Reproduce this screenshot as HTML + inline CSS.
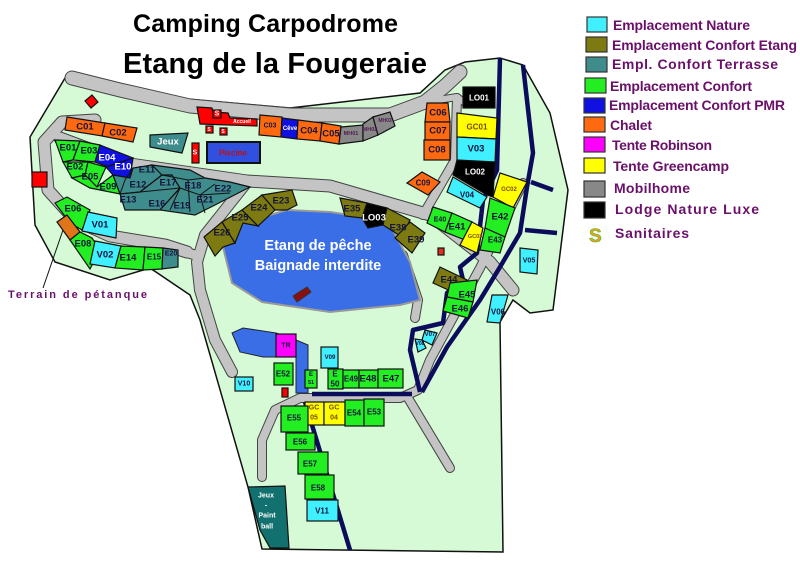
<!DOCTYPE html>
<html><head><meta charset="utf-8"><style>
html,body{margin:0;padding:0;background:#fff;}
svg{display:block;}
text{font-family:"Liberation Sans",sans-serif;font-weight:bold;}
.l{font-size:9.5px;fill:#14143c;text-anchor:middle;dominant-baseline:central;}
.s{font-size:7px;}
.lg{font-size:14px;fill:#6a106a;}
.p{stroke:#111;stroke-width:1.2;}
</style></head><body>
<svg width="800" height="579" viewBox="0 0 800 579" xmlns="http://www.w3.org/2000/svg">
<rect width="800" height="579" fill="#fff"/>
<!-- park -->
<polygon points="68,73 187,99 290,108 420,93 445,70 465,62 500,58 523,65 550,113 568,190 553,310 530,313 513,300 500,322 503,552 262,549 248,487 200,320 190,295 150,268 110,280 55,262 35,225 30,137" fill="#d6fad6" stroke="#111" stroke-width="1.5"/>
<!-- roads outline -->
<g fill="none" stroke="#444" stroke-linejoin="round" stroke-linecap="round">
<polyline stroke-width="15" points="72,78 120,90 190,106 290,115 390,115 425,102 445,86 460,72"/>
<polyline stroke-width="8" points="425,102 457,97 465,103"/>
<polyline stroke-width="13" points="95,120 62,122 44,142 48,190 75,220 110,236 165,245 187,252"/>
<polyline stroke-width="13" points="60,138 130,164 247,181 330,186 430,215 490,262 513,290"/>
<polyline stroke-width="12" points="247,182 205,235 197,262 200,290 215,340 232,372"/>
<polyline stroke-width="11" points="165,246 195,255"/>
<polyline stroke-width="10" points="403,255 418,300 415,318"/>
<polyline stroke-width="10" points="457,98 455,160 423,215"/>
<polyline stroke-width="10" points="523,183 480,268 430,360 418,390 400,398 300,398 275,410 262,440 262,477"/>
<polyline stroke-width="10" points="408,398 450,468"/>
</g>
<g fill="none" stroke="#c4c4c4" stroke-linejoin="round" stroke-linecap="round">
<polyline stroke-width="13" points="72,78 120,90 190,106 290,115 390,115 425,102 445,86 460,72"/>
<polyline stroke-width="6" points="425,102 457,97 465,103"/>
<polyline stroke-width="11" points="95,120 62,122 44,142 48,190 75,220 110,236 165,245 187,252"/>
<polyline stroke-width="11" points="60,138 130,164 247,181 330,186 430,215 490,262 513,290"/>
<polyline stroke-width="10" points="247,182 205,235 197,262 200,290 215,340 232,372"/>
<polyline stroke-width="9" points="165,246 195,255"/>
<polyline stroke-width="8" points="403,255 418,300 415,318"/>
<polyline stroke-width="8" points="457,98 455,160 423,215"/>
<polyline stroke-width="8" points="523,183 480,268 430,360 418,390 400,398 300,398 275,410 262,440 262,477"/>
<polyline stroke-width="8" points="408,398 450,468"/>
</g>
<!-- streams -->
<g fill="none" stroke="#0c0c5c" stroke-width="4.5" stroke-linejoin="round">
<polyline points="500,58 497,170 483,200 477,253 460,267 463,280 447,293 443,323 413,330 410,350 420,392"/>
<polyline points="523,65 533,153 527,187 520,233 500,267 480,300 447,347 422,392"/>
<polyline points="531,182 553,190"/>
<polyline points="525,230 557,233"/>
<polyline points="312,394 412,394"/>
<polyline points="305,402 350,550"/>
</g>
<!-- lake -->
<polygon points="223,247 243,223 287,210 330,212 363,217 390,225 410,262 420,300 400,305 330,312 262,302 232,283" fill="#3a6ee6" stroke="#999" stroke-width="2"/>
<text x="318" y="250" font-size="14.5" fill="#fff" text-anchor="middle">Etang de pêche</text>
<text x="318" y="270" font-size="14.5" fill="#fff" text-anchor="middle">Baignade interdite</text>
<polygon points="293,296 307,287 311,292 297,302" fill="#8a1010" stroke="#333"/>
<!-- pond -->
<polygon points="232,333 243,328 276,333 296,340 308,345 308,393 296,393 296,357 263,357 240,352" fill="#3a6ee6" stroke="#223"/>
<!-- plots -->
<g class="p">
<!-- top row -->
<polygon points="85,101 92,95 98,102 91,108" fill="#f00"/>
<rect x="32" y="172" width="15" height="15" fill="#f00"/>
<polygon points="67,117 105,123 102,136 65,130" fill="#ff6a10"/>
<polygon points="105,123 137,128 133,142 102,136" fill="#ff6a10"/>
<polygon points="150,135 188,133 182,153 150,147" fill="#3f8c8c"/>
<rect x="192" y="143" width="7" height="20" fill="#f00"/>
<rect x="207" y="142" width="53" height="21" fill="#3050e0" stroke-width="2"/>
<polygon points="197,107 212,108 213,112 228,113 230,118 257,119 257,126 200,124" fill="#f00"/>
<rect x="213" y="110" width="8" height="8" fill="#f00"/>
<rect x="206" y="126" width="7" height="7" fill="#f00"/>
<rect x="220" y="128" width="7" height="7" fill="#f00"/>
<polygon points="260,115 282,117 281,137 259,135" fill="#ff6a10"/>
<polygon points="282,118 298,120 297,139 281,137" fill="#1010e0"/>
<polygon points="298,120 322,123 320,141 297,139" fill="#ff6a10"/>
<polygon points="322,123 341,126 339,144 320,141" fill="#ff6a10"/>
<polygon points="341,127 363,125 363,141 339,144" fill="#888"/>
<polygon points="363,124 373,117 378,135 363,141" fill="#888"/>
<polygon points="373,117 390,112 395,126 378,135" fill="#888"/>
<!-- E cluster -->
<polygon points="55,140 80,141 73,160 63,162" fill="#22ee22"/>
<polygon points="80,141 100,145 95,162 73,160" fill="#22ee22"/>
<polygon points="100,145 133,158 122,172 95,162" fill="#1010e0"/>
<polygon points="106,167 133,158 130,178 113,175" fill="#1010e0"/>
<polygon points="63,162 88,162 85,175 72,178" fill="#22ee22"/>
<polygon points="88,162 106,167 97,187 85,175" fill="#22ee22"/>
<polygon points="72,178 85,175 97,187 113,175 120,194 90,188" fill="#22ee22"/>
<polygon points="113,175 130,178 133,168 152,165 162,175 140,192 120,194" fill="#3f8c8c"/>
<polygon points="120,194 140,192 162,175 172,175 180,188 160,210 125,210" fill="#3f8c8c"/>
<polygon points="152,165 190,170 205,178 230,182 250,187 215,205 195,215 160,210 180,188 172,175 162,175" fill="#3f8c8c"/>
<g fill="none" stroke="#111" stroke-width="1">
<polyline points="140,192 180,188"/><polyline points="162,175 188,180 205,178"/><polyline points="180,188 170,210"/><polyline points="188,180 190,212"/><polyline points="200,195 205,213"/><polyline points="215,184 200,195 180,188"/><polyline points="200,195 230,193"/><polyline points="133,168 125,180 120,194"/>
</g>
<!-- lower-left rows -->
<polygon points="55,203 67,197 90,210 82,230 70,223" fill="#22ee22"/>
<polygon points="57,222 67,215 80,232 70,240" fill="#e07418"/>
<polygon points="88,212 117,218 116,238 82,231" fill="#40f0ff"/>
<polygon points="70,240 80,232 92,238 100,250 90,269" fill="#22ee22"/>
<polygon points="95,241 121,246 115,268 90,264" fill="#40f0ff"/>
<polygon points="121,246 145,247 143,270 115,268" fill="#22ee22"/>
<polygon points="145,247 163,248 162,269 143,270" fill="#22ee22"/>
<polygon points="163,248 178,250 178,267 162,269" fill="#3f8c8c"/>
<!-- olive around lake -->
<polygon points="204,237 222,222 235,243 223,247 215,256" fill="#7c7a10"/>
<polygon points="222,222 242,210 258,226 243,223 235,243" fill="#7c7a10"/>
<polygon points="242,210 262,195 275,210 258,226" fill="#7c7a10"/>
<polygon points="262,195 292,190 297,205 287,210 275,210" fill="#7c7a10"/>
<polygon points="340,198 367,203 362,218 345,216" fill="#7c7a10"/>
<polygon points="367,203 387,208 383,225 368,228 362,218" fill="#000"/>
<polygon points="387,208 410,220 402,237 383,225" fill="#7c7a10"/>
<polygon points="410,222 425,233 412,253 395,238" fill="#7c7a10"/>
<!-- right column -->
<rect x="463" y="87" width="32" height="21" fill="#000"/>
<polygon points="427,103 448,103 450,122 425,122" fill="#ff6a10"/>
<rect x="425" y="122" width="25" height="18" fill="#ff6a10"/>
<rect x="424" y="140" width="26" height="20" fill="#ff6a10"/>
<polygon points="457,113 497,118 496,139 457,137" fill="#ffff00"/>
<polygon points="457,137 496,139 495,163 457,161" fill="#40f0ff"/>
<polygon points="457,160 495,162 493,197 487,195 453,175" fill="#000"/>
<polygon points="407,183 422,172 440,182 428,195" fill="#ff6a10"/>
<polygon points="453,177 487,197 480,208 447,192" fill="#40f0ff"/>
<polygon points="500,173 527,182 513,208 493,197" fill="#ffff00"/>
<polygon points="490,198 515,208 505,237 485,228" fill="#22ee22"/>
<polygon points="485,228 505,237 500,253 480,250" fill="#22ee22"/>
<polygon points="433,207 452,213 445,232 427,223" fill="#22ee22"/>
<polygon points="452,213 472,222 465,240 445,232" fill="#22ee22"/>
<polygon points="472,222 483,228 477,253 460,245" fill="#ffff00"/>
<rect x="438" y="248" width="6" height="7" fill="#e03020"/>
<polygon points="440,267 467,280 455,293 433,283" fill="#7c7a10"/>
<polygon points="450,283 477,280 473,302 447,297" fill="#22ee22"/>
<polygon points="447,297 473,302 468,318 443,311" fill="#22ee22"/>
<polygon points="520,248 538,250 537,274 520,272" fill="#40f0ff"/>
<polygon points="492,295 508,295 500,323 487,322" fill="#40f0ff"/>
<polygon points="425,330 437,333 432,345 422,340" fill="#40f0ff"/>
<polygon points="415,339 422,340 426,348 418,352" fill="#40f0ff"/>
<!-- bottom -->
<rect x="276" y="334" width="20" height="23" fill="#ff00ff"/>
<rect x="321" y="347" width="17" height="21" fill="#40f0ff"/>
<rect x="274" y="363" width="19" height="22" fill="#22ee22"/>
<rect x="282" y="388" width="6" height="9" fill="#f00"/>
<rect x="235" y="377" width="18" height="14" fill="#40f0ff"/>
<rect x="305" y="370" width="12" height="18" fill="#22ee22"/>
<rect x="328" y="369" width="15" height="20" fill="#22ee22"/>
<rect x="343" y="370" width="16" height="18" fill="#22ee22"/>
<rect x="359" y="370" width="19" height="18" fill="#22ee22"/>
<rect x="378" y="369" width="25" height="19" fill="#22ee22"/>
<rect x="305" y="402" width="19" height="23" fill="#ffff00"/>
<rect x="324" y="402" width="21" height="23" fill="#ffff00"/>
<rect x="345" y="400" width="19" height="26" fill="#22ee22"/>
<rect x="364" y="399" width="20" height="27" fill="#22ee22"/>
<rect x="281" y="406" width="27" height="26" fill="#22ee22"/>
<rect x="286" y="433" width="29" height="17" fill="#22ee22"/>
<rect x="298" y="452" width="30" height="22" fill="#22ee22"/>
<rect x="305" y="475" width="29" height="24" fill="#22ee22"/>
<rect x="307" y="500" width="31" height="21" fill="#40f0ff"/>
<polygon points="248,487 285,486 289,548 270,548 260,530" fill="#12706e"/>
</g>
<!-- labels -->
<g class="l">
<text x="85" y="127">C01</text><text x="118" y="133">C02</text>
<text x="168" y="142" fill="#fff">Jeux</text>
<text x="195" y="153" class="s" fill="#fff">S</text>
<text x="233" y="153" class="s" fill="#c01010" style="font-size:8px">Piscine</text>
<text x="217" y="114" class="s" fill="#fff">S</text>
<text x="242" y="122" class="s" fill="#fff" style="font-size:5px">Accueil</text>
<text x="209" y="130" class="s" fill="#fff" style="font-size:5px">S</text>
<text x="223" y="132" class="s" fill="#fff" style="font-size:5px">S</text>
<text x="270" y="126" class="s">C03</text><text x="290" y="129" class="s" fill="#fff" style="font-size:6px">Cêve</text>
<text x="309" y="131">C04</text><text x="331" y="134">C05</text>
<text x="351" y="134" class="s" fill="#521a52" style="font-size:5.5px">MH01</text>
<text x="370" y="130" class="s" fill="#521a52" style="font-size:5.5px">MH02</text>
<text x="385" y="121" class="s" fill="#521a52" style="font-size:5px">MH03</text>
<text x="68" y="148">E01</text><text x="89" y="151">E03</text><text x="107" y="158" fill="#fff">E04</text><text x="123" y="167" fill="#fff">E10</text>
<text x="75" y="167">E02</text><text x="90" y="177">E05</text><text x="108" y="187">E09</text>
<text x="147" y="170">E11</text><text x="138" y="185">E12</text><text x="128" y="200">E13</text>
<text x="168" y="183">E17</text><text x="157" y="204">E16</text><text x="193" y="186">E18</text><text x="182" y="206">E19</text>
<text x="205" y="200">E21</text><text x="223" y="189">E22</text>
<text x="73" y="209">E06</text><text x="100" y="225">V01</text><text x="83" y="244">E08</text><text x="105" y="255">V02</text>
<text x="128" y="258">E14</text><text x="154" y="257" class="s" style="font-size:8px">E15</text><text x="171" y="254" class="s">E20</text>
<text x="281" y="201">E23</text><text x="259" y="208">E24</text><text x="240" y="218">E25</text><text x="222" y="233">E26</text>
<text x="352" y="209">E35</text><text x="374" y="218" fill="#fff">LO03</text><text x="398" y="228">E38</text><text x="416" y="240">E39</text>
<text x="479" y="98" fill="#fff" class="s" style="font-size:8px">LO01</text>
<text x="438" y="113">C06</text><text x="438" y="131">C07</text><text x="437" y="150">C08</text>
<text x="477" y="127" fill="#7a4a00" class="s" style="font-size:8px">GC01</text>
<text x="476" y="149">V03</text>
<text x="475" y="172" fill="#fff" class="s" style="font-size:8px">LO02</text>
<text x="423" y="183" class="s" style="font-size:8px">C09</text>
<text x="467" y="195" class="s" style="font-size:8px">V04</text>
<text x="509" y="190" fill="#7a4a00" class="s" style="font-size:6px">GC02</text>
<text x="500" y="217">E42</text><text x="495" y="240" class="s" style="font-size:8px">E43</text>
<text x="440" y="220" class="s" style="font-size:7px">E40</text><text x="457" y="227">E41</text>
<text x="475" y="237" fill="#7a4a00" class="s" style="font-size:5.5px">GC03</text>
<text x="449" y="280">E44</text><text x="467" y="295">E45</text><text x="460" y="309">E46</text>
<text x="529" y="261" class="s">V05</text><text x="498" y="312" class="s" style="font-size:8px">V06</text>
<text x="430" y="335" class="s" style="font-size:6px">V07</text><text x="420" y="344" class="s" style="font-size:5px">V08</text>
<text x="286" y="346" class="s">TR</text>
<text x="330" y="358" class="s" style="font-size:6px">V09</text>
<text x="283" y="374" class="s" style="font-size:8px">E52</text>
<text x="244" y="384" class="s" style="font-size:7px">V10</text>
<text x="311" y="375" class="s" style="font-size:6px">E</text><text x="311" y="383" class="s" style="font-size:5.5px">51</text>
<text x="335" y="374" class="s" style="font-size:8px">E</text><text x="335" y="384" class="s" style="font-size:8px">50</text>
<text x="351" y="379" class="s" style="font-size:8px">E49</text><text x="368" y="379">E48</text><text x="391" y="379">E47</text>
<text x="314" y="408" fill="#7a4a00" class="s">GC</text><text x="314" y="418" fill="#7a4a00" class="s">05</text>
<text x="334" y="408" fill="#7a4a00" class="s">GC</text><text x="334" y="418" fill="#7a4a00" class="s">04</text>
<text x="354" y="413" class="s" style="font-size:8px">E54</text><text x="374" y="412" class="s" style="font-size:8px">E53</text>
<text x="294" y="418" class="s" style="font-size:8px">E55</text><text x="300" y="442" class="s" style="font-size:8px">E56</text>
<text x="310" y="464" class="s" style="font-size:8px">E57</text><text x="318" y="488" class="s" style="font-size:8px">E58</text>
<text x="322" y="511" class="s" style="font-size:8px">V11</text>
<text x="266" y="496" fill="#fff" class="s">Jeux</text><text x="266" y="506" fill="#fff" class="s">-</text>
<text x="267" y="516" fill="#fff" class="s">Paint</text><text x="267" y="527" fill="#fff" class="s">ball</text>
</g>
<!-- petanque -->
<line x1="63" y1="230" x2="43" y2="288" stroke="#111" stroke-width="1"/>
<text x="8" y="298" font-size="11" fill="#6a106a" textLength="139">Terrain de pétanque</text>
<!-- title -->
<text x="133" y="32" font-size="25" fill="#000" textLength="265">Camping Carpodrome</text>
<text x="123" y="73" font-size="29" fill="#000" textLength="304">Etang de la Fougeraie</text>
<!-- legend -->
<g stroke="#333" stroke-width="1.2">
<rect x="587" y="17" width="20" height="15" fill="#40f0ff"/>
<rect x="586" y="37" width="21" height="15" fill="#7c7a10"/>
<rect x="586" y="57" width="21" height="15" fill="#3f8c8c"/>
<rect x="585" y="78" width="21" height="15" fill="#22ee22"/>
<rect x="584" y="98" width="21" height="15" fill="#1010e0"/>
<rect x="584" y="117" width="21" height="15" fill="#ff6a10"/>
<rect x="584" y="137" width="21" height="15" fill="#ff00ff"/>
<rect x="584" y="158" width="21" height="15" fill="#ffff00"/>
<rect x="584" y="181" width="21" height="16" fill="#888"/>
<rect x="584" y="202" width="21" height="16" fill="#000"/>
</g>
<text x="589" y="242" font-size="19" fill="#f0a020" stroke="#40c020" stroke-width="0.6">S</text>
<g class="lg">
<text x="613" y="30" textLength="137">Emplacement Nature</text>
<text x="612" y="50" textLength="185">Emplacement Confort Etang</text>
<text x="612" y="69" textLength="166">Empl. Confort Terrasse</text>
<text x="610" y="91" textLength="142">Emplacement Confort</text>
<text x="609" y="110" textLength="176">Emplacement Confort PMR</text>
<text x="610" y="130" textLength="42">Chalet</text>
<text x="612" y="150" textLength="100">Tente Robinson</text>
<text x="613" y="171" textLength="116">Tente Greencamp</text>
<text x="614" y="193" textLength="76">Mobilhome</text>
<text x="615" y="214" textLength="144">Lodge Nature Luxe</text>
<text x="615" y="238" textLength="74">Sanitaires</text>
</g>
</svg>
</body></html>
